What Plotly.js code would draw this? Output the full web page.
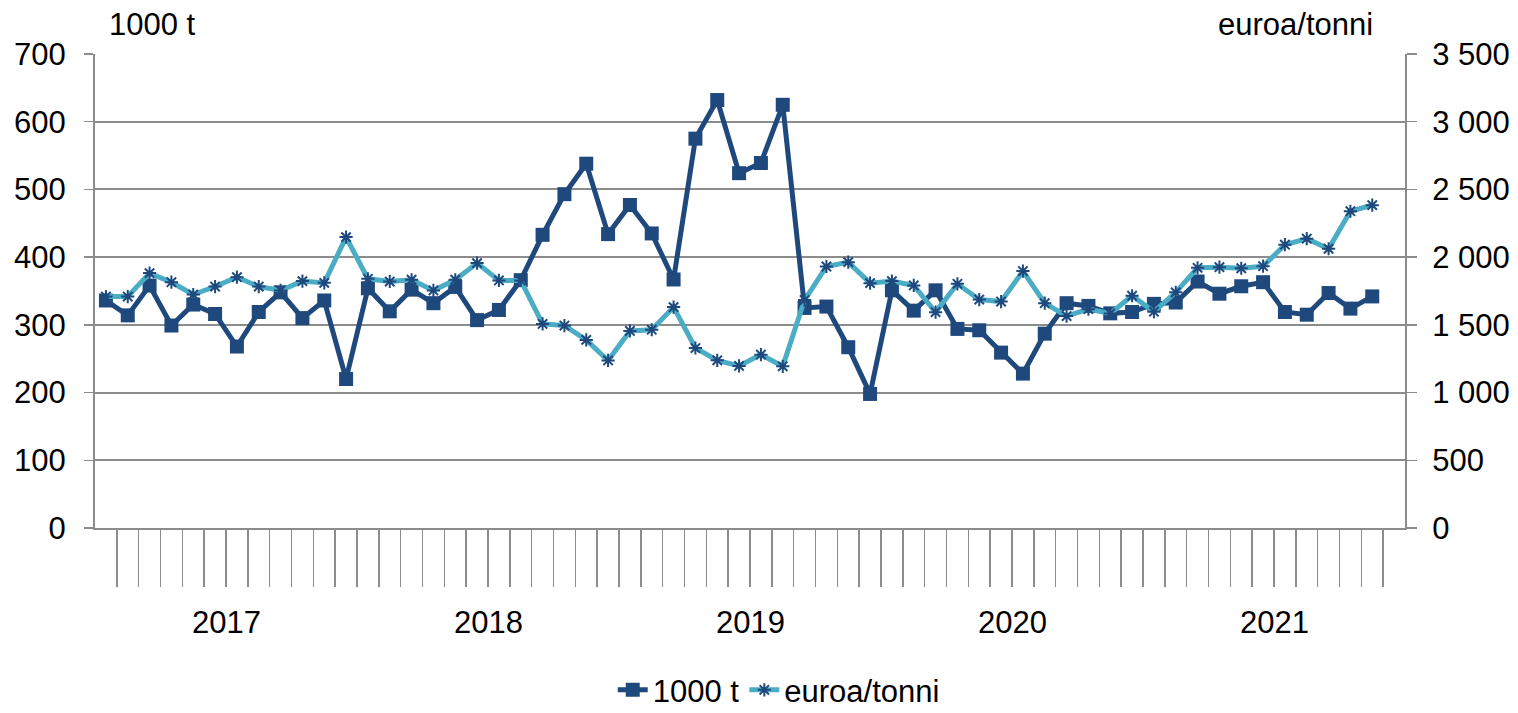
<!DOCTYPE html>
<html>
<head>
<meta charset="utf-8">
<script src="https://cdn.plot.ly/plotly-3.0.1.min.js"></script>
<style>
  html, body { margin: 0; padding: 0; background: #fff; }
  #chart { width: 1518px; height: 713px; }
</style>
</head>
<body>
<div id="chart"></div>
<script>
const YEARS = ['2017', '2018', '2019', '2020', '2021'];

// monthly values Jan 2017 .. Nov 2021
const TONNES = [
  336, 314, 358, 299, 330, 316, 268, 319, 348, 310, 336, 220,
  354, 320, 352, 332, 356, 307, 322, 366, 433, 493, 538, 434,
  477, 435, 367, 575, 632, 524, 539, 625, 325, 327, 267, 198,
  351, 321, 351, 294, 292, 259, 228, 287, 332, 328, 317, 319,
  331, 333, 364, 346, 357, 363, 319, 315, 347, 324, 342
];
const EUR_PER_T = [
  1709, 1709, 1882, 1815, 1724, 1783, 1852, 1783, 1754, 1823, 1810, 2148,
  1840, 1820, 1833, 1754, 1833, 1956, 1828, 1828, 1507, 1495, 1389, 1237,
  1455, 1464, 1631, 1329, 1238, 1197, 1280, 1194, 1683, 1931, 1963, 1808,
  1823, 1791, 1594, 1803, 1687, 1672, 1897, 1660, 1565, 1616, 1584, 1715,
  1597, 1740, 1921, 1926, 1918, 1933, 2092, 2136, 2062, 2339, 2384
];

const LEFT_TICKS = [0, 100, 200, 300, 400, 500, 600, 700];
const RIGHT_TICKS = [0, 500, 1000, 1500, 2000, 2500, 3000, 3500];
const RIGHT_LABELS = ['0', '500', '1 000', '1 500', '2 000', '2 500', '3 000', '3 500'];

const NAMES = ['1000 t', 'euroa/tonni'];

const DARK = '#1f497d';
const LIGHT = '#4bacc6';
const GRID = '#8c8c8c';
const FONT = 'Liberation Sans, Arial, sans-serif';
const FS = 31;

const nMonths = YEARS.length * 12;
const xs = TONNES.map((_, i) => i);

const traces = [
  {
    name: NAMES[0],
    type: 'scatter',
    mode: 'lines+markers',
    x: xs,
    y: TONNES,
    line: { color: DARK, width: 5 },
    marker: { symbol: 'square', size: 14, color: DARK }
  },
  {
    name: NAMES[1],
    type: 'scatter',
    mode: 'lines+markers',
    x: xs,
    y: EUR_PER_T,
    yaxis: 'y2',
    line: { color: LIGHT, width: 5 },
    marker: { symbol: 'asterisk-open', size: 11, color: DARK, line: { color: DARK, width: 2 } }
  }
];

const monthBounds = Array.from({ length: nMonths - 1 }, (_, k) => k + 0.5);
const yearBounds = Array.from({ length: YEARS.length + 1 }, (_, k) => k * 12 - 0.5);

const layout = {
  width: 1518,
  height: 713,
  margin: { t: 54, r: 113, b: 185, l: 95 },
  paper_bgcolor: '#fff',
  plot_bgcolor: '#fff',
  font: { family: FONT, size: FS, color: '#000' },
  showlegend: true,
  legend: {
    orientation: 'h',
    xref: 'container', x: 0.513, xanchor: 'center',
    yref: 'container', y: 0.032, yanchor: 'middle',
    font: { size: FS },
    bgcolor: 'rgba(0,0,0,0)'
  },
  xaxis: {
    range: [-0.5, nMonths - 0.5],
    tickmode: 'array',
    tickvals: monthBounds,
    showticklabels: false,
    ticks: 'outside',
    ticklen: 57,
    tickwidth: 1.5,
    tickcolor: GRID,
    showgrid: false,
    zeroline: false,
    showline: true,
    linecolor: GRID,
    linewidth: 2
  },
  xaxis2: {
    overlaying: 'x',
    anchor: 'y',
    side: 'bottom',
    range: [-0.5, nMonths - 0.5],
    tickmode: 'array',
    tickvals: yearBounds,
    showticklabels: false,
    ticks: 'outside',
    ticklen: 112,
    tickwidth: 1.5,
    tickcolor: GRID,
    showgrid: false,
    zeroline: false,
    showline: false
  },
  yaxis: {
    range: [0, 700],
    tickmode: 'array',
    tickvals: LEFT_TICKS,
    ticks: 'outside',
    ticklen: 9,
    tickwidth: 1.5,
    tickcolor: GRID,
    ticklabelstandoff: 12,
    showgrid: true,
    gridcolor: GRID,
    gridwidth: 2,
    zeroline: false,
    showline: true,
    linecolor: GRID,
    linewidth: 2,
    tickfont: { size: FS }
  },
  yaxis2: {
    overlaying: 'y',
    side: 'right',
    range: [0, 3500],
    tickmode: 'array',
    tickvals: RIGHT_TICKS,
    ticktext: RIGHT_LABELS,
    ticks: 'outside',
    ticklen: 10,
    tickwidth: 1.5,
    tickcolor: GRID,
    ticklabelstandoff: 9,
    showgrid: false,
    zeroline: false,
    showline: true,
    linecolor: GRID,
    linewidth: 2,
    tickfont: { size: FS }
  },
  annotations: [
    ...YEARS.map((yr, k) => ({
      text: yr,
      x: k * 12 + 5.5, xref: 'x',
      y: 0, yref: 'paper', yanchor: 'middle', yshift: -94,
      showarrow: false,
      font: { size: FS }
    })),
    {
      text: NAMES[0],
      x: 0.009, xref: 'paper', xanchor: 'left',
      y: 1, yref: 'paper', yanchor: 'middle', yshift: 30,
      showarrow: false,
      font: { size: FS }
    },
    {
      text: NAMES[1],
      x: 0.977, xref: 'paper', xanchor: 'right',
      y: 1, yref: 'paper', yanchor: 'middle', yshift: 30,
      showarrow: false,
      font: { size: FS }
    }
  ]
};

Plotly.newPlot('chart', traces, layout, { displayModeBar: false, staticPlot: true });
</script>
</body>
</html>
